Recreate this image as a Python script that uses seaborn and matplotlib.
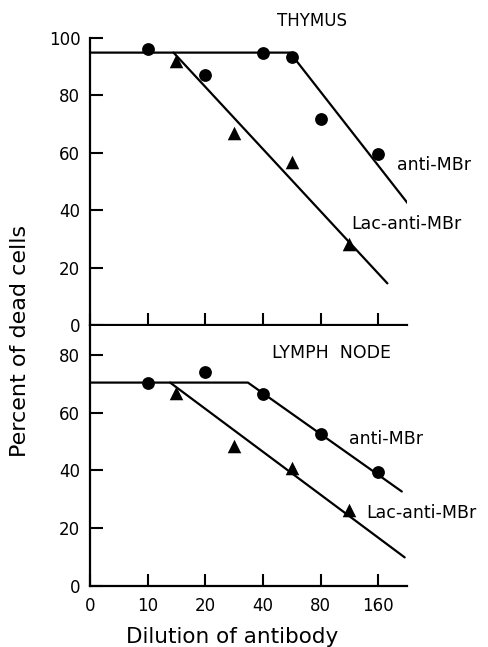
import matplotlib
matplotlib.use("Agg")
import matplotlib.pyplot as plt
import seaborn as sns

# x axis is a doubling-dilution scale: position 0 -> "0", 1 -> 10, 2 -> 20 ...
tick_pos = [0, 1, 2, 3, 4, 5]
tick_labels = ['0', '10', '20', '40', '80', '160']

# Thymus
thy_circ_x = [1, 2, 3, 3.5, 4, 5]
thy_circ_y = [96.2, 87.1, 94.9, 93.3, 71.7, 59.7]
thy_tri_x = [1.5, 2.5, 3.5, 4.5]
thy_tri_y = [92.0, 66.8, 56.9, 28.1]
thy_anti_x = [0, 3.47, 5.52]
thy_anti_y = [94.9, 94.9, 42.2]
thy_lac_x = [1.45, 5.16]
thy_lac_y = [94.9, 14.5]

# Lymph node
lym_circ_x = [1, 2, 3, 4, 5]
lym_circ_y = [70.4, 74.0, 66.4, 52.5, 39.6]
lym_tri_x = [1.5, 2.5, 3.5, 4.5]
lym_tri_y = [66.9, 48.3, 40.8, 26.3]
lym_anti_x = [0, 2.74, 5.41]
lym_anti_y = [70.4, 70.4, 32.7]
lym_lac_x = [1.39, 5.46]
lym_lac_y = [70.4, 9.9]

sns.set_style("ticks", {'xtick.direction': 'in', 'ytick.direction': 'in',
                        'axes.edgecolor': 'black', 'text.color': 'black',
                        'xtick.color': 'black', 'ytick.color': 'black',
                        'axes.labelcolor': 'black'})
plt.rcParams['font.family'] = ['DejaVu Sans']

fig = plt.figure(figsize=(4.88, 6.47), dpi=100)
ax1 = fig.add_axes([0.1844, 0.4977, 0.6496, 0.4436])
ax2 = fig.add_axes([0.1844, 0.0943, 0.6496, 0.4019])

panels = [
    (ax1, thy_circ_x, thy_circ_y, thy_tri_x, thy_tri_y,
     thy_anti_x, thy_anti_y, thy_lac_x, thy_lac_y),
    (ax2, lym_circ_x, lym_circ_y, lym_tri_x, lym_tri_y,
     lym_anti_x, lym_anti_y, lym_lac_x, lym_lac_y),
]

for ax, cx, cy, tx, ty, ax_, ay_, lx, ly in panels:
    sns.lineplot(x=ax_, y=ay_, ax=ax, color='black', lw=1.6, sort=False, estimator=None)
    sns.lineplot(x=lx, y=ly, ax=ax, color='black', lw=1.6, sort=False, estimator=None)
    sns.scatterplot(x=cx, y=cy, ax=ax, marker='o', color='black', s=85, linewidth=0, zorder=3)
    sns.scatterplot(x=tx, y=ty, ax=ax, marker='^', color='black', s=95, linewidth=0, zorder=3)
    ax.set_xlim(0, 5.5)
    ax.set_xticks(tick_pos)
    sns.despine(ax=ax)
    ax.tick_params(direction='in', length=9, width=1.5, labelsize=12, pad=7, colors='black')
    for s in ['left', 'bottom']:
        ax.spines[s].set_linewidth(1.6)
        ax.spines[s].set_color('black')

ax1.set_ylim(0, 100)
ax1.set_yticks([0, 20, 40, 60, 80, 100])
ax1.set_xticklabels([])
ax2.set_ylim(0, 90)
ax2.set_yticks([0, 20, 40, 60, 80])
ax2.set_xticklabels(tick_labels)
ax2.tick_params(axis='x', pad=8)

ax1.text(3.85, 105.9, 'THYMUS', ha='center', va='center', fontsize=12, clip_on=False)
ax1.text(5.32, 55.7, 'anti-MBr', ha='left', va='center', fontsize=12.5, clip_on=False)
ax1.text(4.54, 35.2, 'Lac-anti-MBr', ha='left', va='center', fontsize=12.5, clip_on=False)
ax2.text(3.15, 80.7, 'LYMPH  NODE', ha='left', va='center', fontsize=12.5, clip_on=False)
ax2.text(4.49, 50.9, 'anti-MBr', ha='left', va='center', fontsize=12.5, clip_on=False)
ax2.text(4.80, 25.3, 'Lac-anti-MBr', ha='left', va='center', fontsize=12.5, clip_on=False)

fig.text(0.041, 0.473, 'Percent of dead cells', rotation=90, ha='center', va='center', fontsize=16)
fig.text(0.475, 0.016, 'Dilution of antibody', ha='center', va='center', fontsize=15.5)

fig.savefig('out.png', dpi=100)
